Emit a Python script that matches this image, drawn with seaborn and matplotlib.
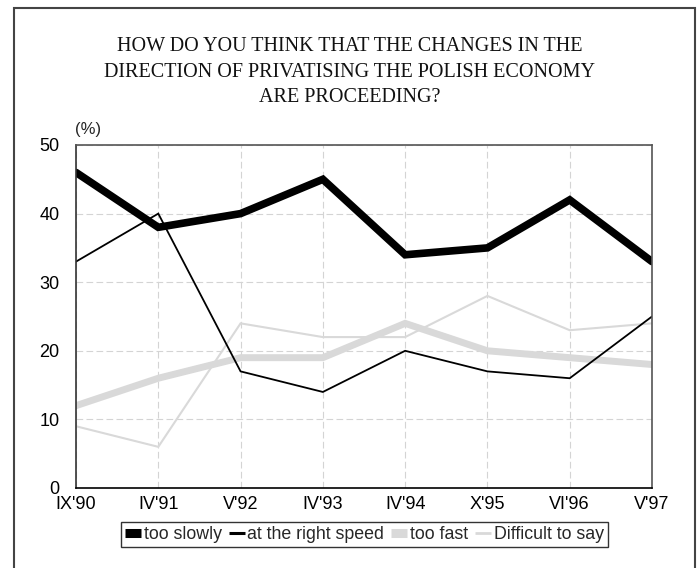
import matplotlib
matplotlib.use("Agg")
import matplotlib.pyplot as plt
import seaborn as sns
import pandas as pd
from matplotlib.lines import Line2D
from matplotlib.patches import Rectangle

categories = ["IX'90", "IV'91", "V'92", "IV'93", "IV'94", "X'95", "VI'96", "V'97"]
too_slowly = [46, 38, 40, 45, 34, 35, 42, 33]
right_speed = [33, 40, 17, 14, 20, 17, 16, 25]
too_fast = [12, 16, 19, 19, 24, 20, 19, 18]
difficult = [9, 6, 24, 22, 22, 28, 23, 24]
series_names = ["too slowly", "at the right speed", "too fast", "Difficult to say"]
y_ticks = [0, 10, 20, 30, 40, 50]

sns.set_theme(style="white")
plt.rcParams["font.family"] = ["Liberation Sans", "DejaVu Sans"]

rows = []
for name, vals in zip(series_names, [too_slowly, right_speed, too_fast, difficult]):
    for i, (c, v) in enumerate(zip(categories, vals)):
        rows.append({"period": i, "label": c, "series": name, "value": v})
df = pd.DataFrame(rows)

colors = {"too slowly": "#000000", "at the right speed": "#000000",
          "too fast": "#d9d9d9", "Difficult to say": "#d9d9d9"}
widths = {"too slowly": 5.5, "at the right speed": 1.3,
          "too fast": 5.0, "Difficult to say": 1.5}
legend_widths = {"too slowly": 6.5, "at the right speed": 2.2,
                 "too fast": 6.5, "Difficult to say": 2.0}

fig = plt.figure(figsize=(7.0, 5.68), dpi=100)
ax = fig.add_axes([76/700, 1-488/568, (652-76)/700, (488-145)/568])

draw_order = ["Difficult to say", "too fast", "at the right speed", "too slowly"]
for name in draw_order:
    sub = df[df["series"] == name]
    sns.lineplot(data=sub, x="period", y="value", ax=ax, color=colors[name],
                 linewidth=widths[name], legend=False, solid_joinstyle="miter")

ax.set_xlim(0, len(categories) - 1)
ax.set_ylim(0, 50)
ax.set_xticks(range(len(categories)))
ax.set_xticklabels(categories)
ax.set_yticks(y_ticks)
ax.set_xlabel("")
ax.set_ylabel("")
ax.tick_params(axis="both", length=0, labelsize=13, colors="#000000")
ax.tick_params(axis="y", pad=12)
ax.tick_params(axis="x", pad=6)
ax.grid(True, color="#d4d4d4", linestyle=(0, (6, 3)), linewidth=0.8)
for s in ax.spines.values():
    s.set_color("#555555")
    s.set_linewidth(1.2)
ax.spines["bottom"].set_color("#000000")
ax.spines["left"].set_color("#333333")

ax.text(-0.002, 1.045, "(%)", transform=ax.transAxes, fontsize=12,
        ha="left", va="center")

fig.text(350/700, 1-72/568,
         "HOW DO YOU THINK THAT THE CHANGES IN THE\n"
         "DIRECTION OF PRIVATISING THE POLISH ECONOMY\n"
         "ARE PROCEEDING?",
         ha="center", va="center", fontsize=14.5, family=["Liberation Serif"],
         linespacing=1.45, color="#111111")

handles = [Line2D([0], [0], color=colors[n], linewidth=legend_widths[n],
                  solid_capstyle="butt") for n in series_names]
leg = fig.legend(handles, series_names, loc="center",
                 bbox_to_anchor=(364.5/700, 1-534.5/568), ncol=4,
                 fontsize=12.8, frameon=True, fancybox=False,
                 handlelength=0.9, handletextpad=0.15, columnspacing=0.4,
                 borderpad=0.2, borderaxespad=0)
leg.get_frame().set_edgecolor("#000000")
leg.get_frame().set_linewidth(1.0)

fig.patches.append(Rectangle((14/700, -0.05), (695-14)/700, 1.05 - 8/568,
                             transform=fig.transFigure, fill=False,
                             edgecolor="#444444", linewidth=1.5, clip_on=False))

fig.savefig("out.png", dpi=100)
